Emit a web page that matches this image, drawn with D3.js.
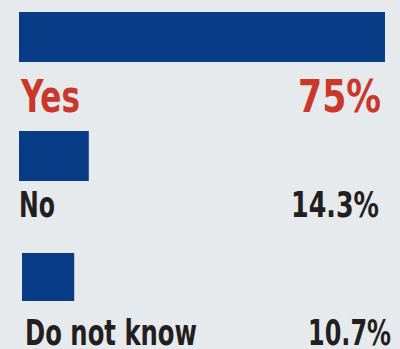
<!DOCTYPE html>
<html><head><meta charset="utf-8">
<script src="https://cdn.jsdelivr.net/npm/d3@7"></script>
<style>
html,body{margin:0;padding:0;background:#e7eaed;}
svg{display:block;}
text{font-family:"Liberation Sans Narrow","DejaVu Sans Condensed","Roboto Condensed",sans-serif;font-weight:bold;}
</style></head>
<body>
<script>
const categories = ["Yes", "No", "Do not know"];
const values = [75, 14.3, 10.7];
const valueLabels = ["75%", "14.3%", "10.7%"];

const W = 400, H = 349;
const svg = d3.select("body").append("svg").attr("width", W).attr("height", H);
svg.append("rect").attr("width", W).attr("height", H).attr("fill", "#e7eaed");

const x = d3.scaleLinear().domain([0, 75]).range([0, 366]);
const y = d3.scalePoint().domain(categories).range([12, 252]);
const bw = 50;

const rows = categories.map((c, i) => ({cat: c, v: values[i], lab: valueLabels[i], i}));

svg.selectAll("rect.bar").data(rows).enter().append("rect")
  .attr("class", "bar")
  .attr("x", d => d.i === 2 ? 22 : 19)
  .attr("y", d => y(d.cat) + (d.i === 1 ? -1 : d.i === 2 ? 1 : 0))
  .attr("width", d => x(d.v))
  .attr("height", d => d.i === 2 ? 48 : bw)
  .attr("fill", "#083c87");

const fontSize = i => i === 0 ? 44 : 36;
const baseOff = [100, 85, 93];
const color = i => i === 0 ? "#c9382a" : "#231f20";
const catW = [59, 36, 172];
const valW = [83, 88, 83];
const catX = [21, 19, 25];
const valR = [381, 379, 391];

svg.selectAll("text.cat").data(rows).enter().append("text")
  .attr("class", "cat")
  .attr("x", d => catX[d.i])
  .attr("y", d => y(d.cat) + baseOff[d.i])
  .attr("font-size", d => fontSize(d.i))
  .attr("fill", d => color(d.i))
  .attr("textLength", d => catW[d.i])
  .attr("lengthAdjust", "spacingAndGlyphs")
  .text(d => d.cat);

svg.selectAll("text.val").data(rows).enter().append("text")
  .attr("class", "val")
  .attr("x", d => valR[d.i] - valW[d.i])
  .attr("y", d => y(d.cat) + baseOff[d.i])
  .attr("font-size", d => fontSize(d.i))
  .attr("fill", d => color(d.i))
  .attr("textLength", d => valW[d.i])
  .attr("lengthAdjust", "spacingAndGlyphs")
  .text(d => d.lab);
</script>
</body></html>
